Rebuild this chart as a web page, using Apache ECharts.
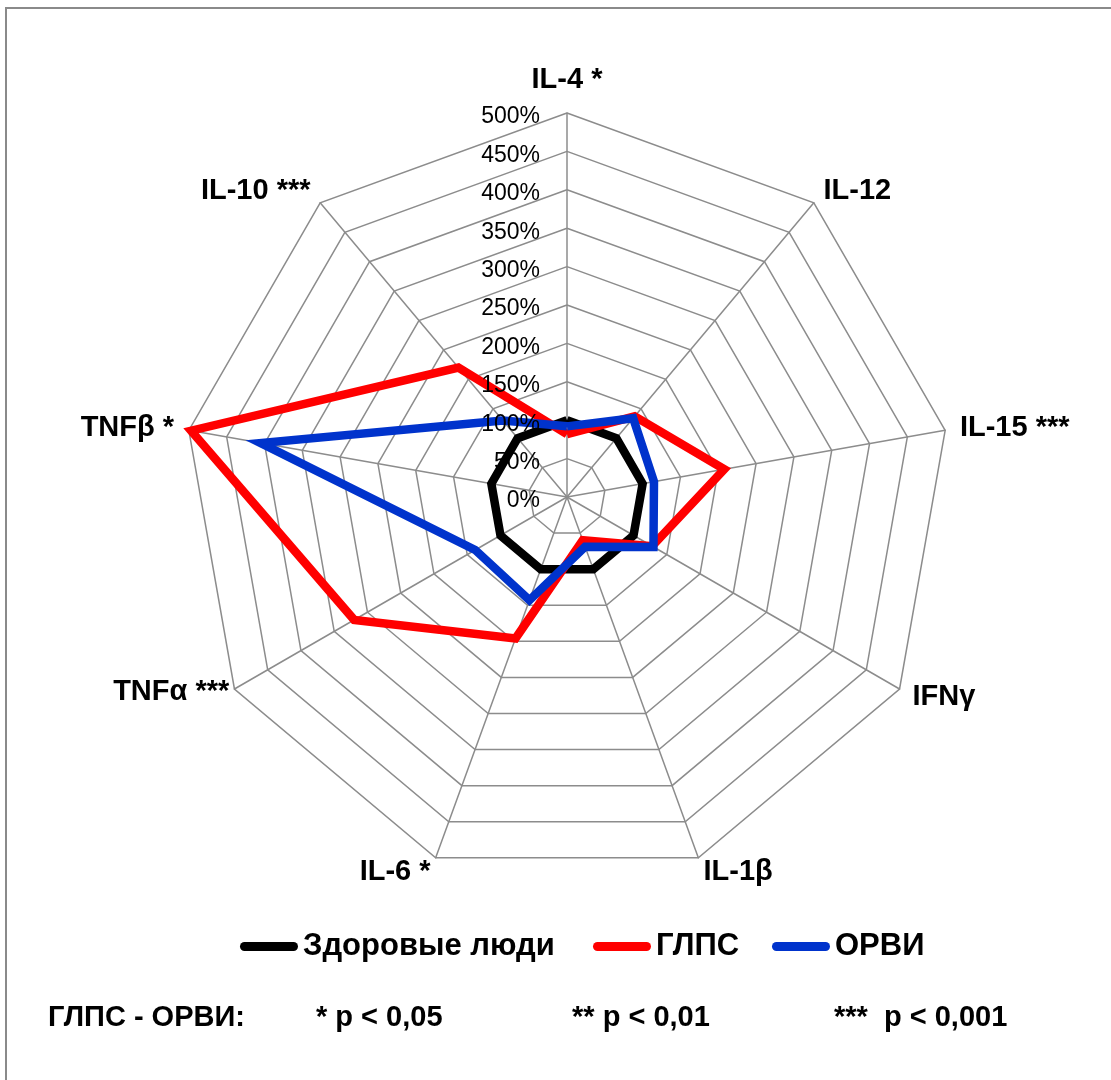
<!DOCTYPE html>
<html>
<head>
<meta charset="utf-8">
<title>Цитокины: ГЛПС и ОРВИ</title>
<script src="https://cdn.jsdelivr.net/npm/echarts@6/dist/echarts.min.js"></script>
<style>
  html, body { margin: 0; padding: 0; background: #fff; }
  #chart { width: 1111px; height: 1080px; }
</style>
</head>
<body>
<div id="chart"></div>
<script>
// Cytokine axes, listed in the order the radar lays them out (from the top, counter-clockwise)
const cytokines = ['IL-4 *', 'IL-10 ***', 'TNFβ *', 'TNFα ***', 'IL-6 *', 'IL-1β', 'IFNγ', 'IL-15 ***', 'IL-12'];

// Levels relative to healthy donors, %
const healthy = [100, 100, 100, 100, 100, 100, 100, 100, 100];
const hfrs    = [82, 220, 497, 320, 196, 60, 128, 208, 137];
const ari     = [92, 130, 405, 138, 143, 69, 130, 115, 134];

const seriesNames = ['Здоровые люди', 'ГЛПС', 'ОРВИ'];
const seriesColors = ['#000000', '#ff0000', '#0033cc'];

// Scale of the radial axis, %
const axisMax = 500;
const axisStep = 50;

// Significance note under the legend
const noteParts = ['ГЛПС - ОРВИ:', '* p < 0,05', '** p < 0,01', '***  p < 0,001'];

const chart = echarts.init(document.getElementById('chart'), null, { renderer: 'canvas' });

const FONT = 'Liberation Sans, Arial, sans-serif';
const gridColor = '#8c8c8c';
const legendIcon = 'path://M4.5,0 L53.5,0 A4.5,4.5 0 0 1 53.5,9 L4.5,9 A4.5,4.5 0 0 1 4.5,0 Z';
const legendLefts = [240, 593, 772];
const noteLefts = [48, 316, 572, 834];

// Per-axis tweak of the name distance
const nameGaps = { 'IL-4 *': 19, 'TNFα ***': 6 };

const radarGeom = {
  radius: 384,
  startAngle: 90,
  shape: 'polygon',
  splitNumber: axisMax / axisStep
};

const option = {
  backgroundColor: '#ffffff',
  animation: false,
  radar: [
    // Web of the chart with the cytokine names
    Object.assign({}, radarGeom, {
      center: [567, 497],
      z: 1,
      indicator: cytokines.map(name => {
        const ind = { name: name, min: 0, max: axisMax };
        if (nameGaps[name] != null) ind.nameGap = nameGaps[name];
        return ind;
      }),
      nameGap: 15,
      axisName: { color: '#000', fontFamily: FONT, fontWeight: 'bold', fontSize: 29 },
      axisLine: { lineStyle: { color: gridColor, width: 1.5 } },
      splitLine: { lineStyle: { color: gridColor, width: 1.5 } },
      splitArea: { show: false },
      axisTick: { show: false },
      axisLabel: { show: false }
    }),
    // Same scale again, only for the percent labels on the vertical axis;
    // it is drawn above the lines and sits a few pixels lower so each label centres on its ring
    Object.assign({}, radarGeom, {
      center: [567, 501],
      z: 10,
      indicator: cytokines.map((name, i) => {
        const ind = { name: name, min: 0, max: axisMax };
        if (i === 0) ind.axisLabel = { show: true };
        return ind;
      }),
      axisName: { show: false },
      axisLine: { show: false },
      splitLine: { show: false },
      splitArea: { show: false },
      axisTick: { show: false },
      axisLabel: {
        show: false,
        color: '#000',
        fontFamily: FONT,
        fontSize: 23,
        margin: 27,
        formatter: v => v + '%'
      }
    })
  ],
  legend: seriesNames.map((name, i) => ({
    data: [{ name: name, icon: legendIcon }],
    left: legendLefts[i],
    top: 931,
    padding: 0,
    itemWidth: 58,
    itemHeight: 9,
    selectedMode: false,
    textStyle: { color: '#000', fontFamily: FONT, fontWeight: 'bold', fontSize: 31 }
  })),
  series: [{
    type: 'radar',
    radarIndex: 0,
    z: 2,
    symbol: 'none',
    data: [healthy, hfrs, ari].map((vals, i) => ({
      name: seriesNames[i],
      value: vals,
      lineStyle: { color: seriesColors[i], width: 8.5, join: 'miter', miterLimit: 10 },
      itemStyle: { color: seriesColors[i] },
      areaStyle: { opacity: 0 }
    }))
  }],
  graphic: [
    {
      type: 'rect',
      shape: { x: 6, y: 8, width: 1300, height: 1300 },
      style: { fill: 'none', stroke: '#8a8a8a', lineWidth: 2 },
      silent: true
    }
  ].concat(noteParts.map((t, i) => ({
    type: 'text',
    left: noteLefts[i],
    top: 1003,
    style: { text: t, fill: '#000', font: 'bold 29px "Liberation Sans", Arial, sans-serif' }
  })))
};

chart.setOption(option);
</script>
</body>
</html>
